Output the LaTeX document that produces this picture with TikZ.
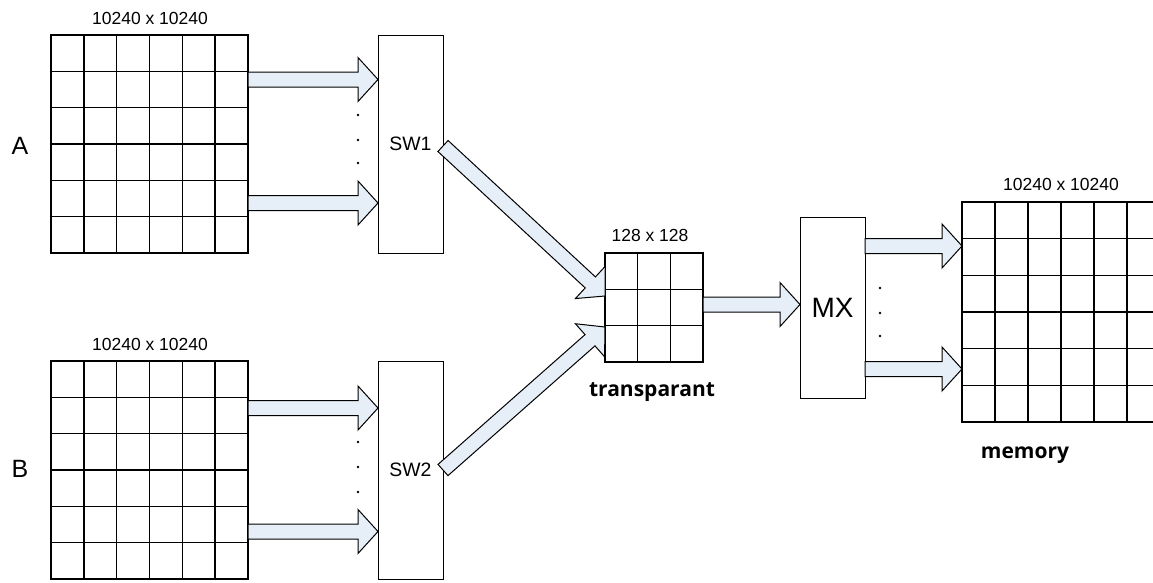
\documentclass[tikz,border=0pt]{standalone}
\usepackage{fontspec}
\setmainfont{Liberation Sans}
\newfontfamily\namefont{Open Sans}
\usetikzlibrary{calc}
\definecolor{arrowfill}{RGB}{230,238,248}

% block arrow from #1 to #2
\newcommand{\fatarrow}[2]{%
  \draw [fatarrow] let \p1=($(#2)-(#1)$), \n1={atan2(\y1,\x1)}, \n2={veclen(\x1,\y1)} in
    [shift={(#1)}, rotate=\n1]
    (0pt,-7.5pt) -- ({\n2-20pt},-7.5pt) -- ({\n2-20pt},-22pt) -- (\n2,0pt)
    -- ({\n2-20pt},22pt) -- ({\n2-20pt},7.5pt) -- (0pt,7.5pt) -- cycle;}

% inner lines of a grid node: node, columns, rows
\newcommand{\cells}[3]{%
  \foreach \i in {1,...,#2}
    \draw [cellline] ($(#1.north west)!\i/#2!(#1.north east)$) -- ($(#1.south west)!\i/#2!(#1.south east)$);
  \foreach \j in {1,...,#3}
    \draw [cellline] ($(#1.north west)!\j/#3!(#1.south west)$) -- ($(#1.north east)!\j/#3!(#1.south east)$);}

\begin{document}
\begin{tikzpicture}[x=1pt, y=1pt,
    box/.style={draw, line width=1pt, inner sep=0pt, outer sep=0pt},
    cellblock/.style={draw, line width=1.6pt, inner sep=0pt, outer sep=0pt},
    cellline/.style={line width=1.6pt},
    fatarrow/.style={draw=black, fill=arrowfill, line width=1pt, line join=miter},
    dimlabel/.style={font=\fontsize{17.5}{20}\selectfont},
    side/.style={font=\fontsize{25}{28}\selectfont},
    namelabel/.style={font=\namefont\bfseries\fontsize{21}{24}\selectfont}]
    \useasboundingbox (0,0) rectangle (1153,-582);
    \clip (0,0) rectangle (1153,-582);

    \path (149.5,-144) node [cellblock, minimum width=197pt, minimum height=218pt] (gridA) {};
    \path (149.5,-470) node [cellblock, minimum width=197pt, minimum height=218pt] (gridB) {};
    \path (654,-307.5) node [cellblock, minimum width=98pt, minimum height=109pt] (trans) {};
    \path (1061,-312) node [cellblock, minimum width=198pt, minimum height=220pt] (memory) {};
    \cells{gridA}{6}{6}
    \cells{gridB}{6}{6}
    \cells{trans}{3}{3}
    \cells{memory}{6}{6}

    \path (150,-18) node [dimlabel] (sizeA) {10240 x 10240};
    \path (150,-344) node [dimlabel] (sizeB) {10240 x 10240};
    \path (650,-235) node [dimlabel] (sizeT) {128 x 128};
    \path (1061,-184) node [dimlabel] (sizeM) {10240 x 10240};
    \path (20,-146) node [side] (labA) {A};
    \path (20,-469) node [side] (labB) {B};
    \path (652,-392) node [namelabel] (labT) {transparant};
    \path (1025,-455) node [namelabel] (labM) {memory};

    \path (410.5,-144) node [box, minimum width=65pt, minimum height=218pt,
      font=\fontsize{19.4}{22}\selectfont] (SW1) {SW1};
    \path (410.5,-470) node [box, minimum width=65pt, minimum height=218pt,
      font=\fontsize{19.4}{22}\selectfont] (SW2) {SW2};
    \path (832.5,-307.5) node [box, minimum width=65pt, minimum height=181pt,
      font=\fontsize{28}{30}\selectfont] (MX) {MX};

    \path (248,-79.5) coordinate (a1) (248,-203) coordinate (a2);
    \path (248,-408) coordinate (b1) (248,-531.5) coordinate (b2);
    \path (443,-146) coordinate (s1) (443,-470) coordinate (s2);
    \path (605,-296) coordinate (t1) (605,-327) coordinate (t2);
    \path (703,-304.5) coordinate (t3);
    \path (865,-246) coordinate (m1) (865,-369) coordinate (m2);

    \fatarrow{a1}{SW1.west |- a1}
    \fatarrow{a2}{SW1.west |- a2}
    \fatarrow{b1}{SW2.west |- b1}
    \fatarrow{b2}{SW2.west |- b2}
    \fatarrow{s1}{t1}
    \fatarrow{s2}{t2}
    \fatarrow{t3}{MX.west |- t3}
    \fatarrow{m1}{memory.west |- m1}
    \fatarrow{m2}{memory.west |- m2}

    \foreach \y in {115,140,163,442,467,492}
      \fill (358,-\y) circle (1.3pt);
    \foreach \y in {288,313,336}
      \fill (880,-\y) circle (1.3pt);
\end{tikzpicture}
\end{document}
